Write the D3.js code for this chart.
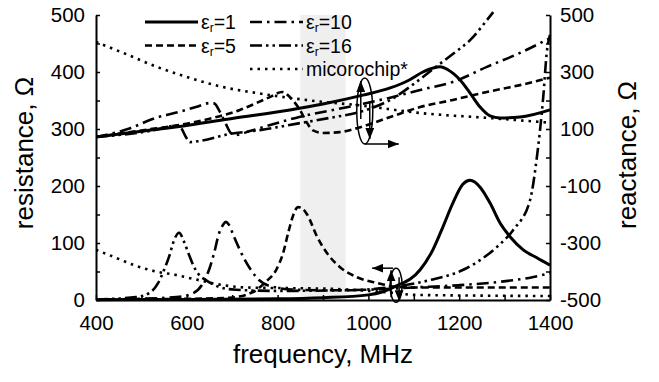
<!DOCTYPE html>
<html>
<head>
<meta charset="utf-8">
<script src="https://cdn.jsdelivr.net/npm/d3@7"></script>
<style>
  body { margin: 0; background: #fff; }
  svg text { font-family: "Liberation Sans", Arial, sans-serif; fill: #000; }
</style>
</head>
<body>
<div id="chart"></div>
<script>
// resistance (left axis), [frequency MHz, ohm]
const resEr1 = [[400,0.5],[600,1],[800,2],[900,4],[1000,9],[1030,14],[1057,23],[1114,53],[1142,88],[1164,128],[1186,170],[1208,203],[1224,210],[1246,198],[1268,170],[1290,135],[1312,111],[1341,88],[1371,74],[1400,61]];
const resEr5 = [[400,1],[600,2],[693,4],[746,14],[774,32],[797,53],[812,82],[825,123],[835,150],[845,163],[855,160],[865,150],[887,111],[909,82],[937,58],[975,40],[1019,30],[1063,23],[1100,22],[1400,22]];
const resEr10 = [[400,0.5],[577,5],[614,12],[636,30],[649,53],[660,82],[671,117],[680,132],[686,137],[692,133],[704,111],[724,76],[741,53],[759,35],[790,23],[840,18],[900,17],[1000,18],[1100,22],[1200,26],[1290,32],[1361,40],[1400,47]];
const resEr16 = [[400,1],[488,5],[517,12],[537,30],[550,53],[561,76],[572,105],[583,118],[594,102],[605,79],[616,58],[627,44],[642,35],[671,23],[708,18],[800,16],[950,17],[1063,24],[1136,35],[1209,53],[1246,70],[1283,93],[1319,123],[1356,175],[1371,250],[1385,355],[1393,435],[1400,465]];
const resChip = [[400,88],[444,74],[488,60],[532,50],[576,44],[620,36],[680,26],[730,22],[800,21],[900,20],[1000,16],[1060,12],[1100,9],[1200,8],[1400,7]];

// reactance (right axis), [frequency MHz, ohm]
const reacEr1 = [[400,72],[500,92],[607,114],[700,137],[827,167],[900,188],[988,219],[1048,244],[1090,272],[1120,300],[1145,315],[1158,318],[1175,308],[1202,272],[1224,226],[1246,177],[1268,146],[1290,139],[1334,142],[1400,167]];
const reacEr5 = [[400,72],[500,95],[607,121],[717,167],[783,212],[810,230],[827,212],[849,167],[865,121],[878,95],[900,86],[937,89],[975,103],[1048,142],[1114,177],[1186,202],[1261,230],[1334,254],[1400,280]];
const reacEr10 = [[400,72],[470,100],[532,139],[583,160],[620,177],[651,191],[660,190],[673,160],[686,118],[697,86],[708,79],[739,93],[840,139],[975,184],[1048,210],[1114,237],[1186,265],[1261,318],[1334,367],[1400,419]];
const reacEr16 = [[400,72],[519,93],[576,111],[587,104],[598,72],[607,54],[629,58],[693,82],[761,96],[840,118],[915,139],[981,160],[1048,202],[1114,275],[1151,321],[1186,363],[1224,412],[1268,496],[1275,510]];
const reacChip = [[400,405],[460,367],[534,318],[607,279],[680,247],[755,226],[828,209],[900,195],[975,184],[1114,156],[1262,139],[1400,122]];

const band = [850, 950];
const xTicks = [400,500,600,700,800,900,1000,1100,1200,1300,1400];
const xLabels = [400,600,800,1000,1200,1400];
const leftTicks = [0,50,100,150,200,250,300,350,400,450,500];
const leftLabels = [0,100,200,300,400,500];
const rightTicks = [-500,-400,-300,-200,-100,0,100,200,300,400,500];
const rightLabels = [-500,-300,-100,100,300,500];

const styles = {
    er1: { dash: null, w: 3 },
    er5: { dash: '7,4', w: 2.6 },
    er10: { dash: '12,5,2.5,5', w: 2.6 },
    er16: { dash: '12,4,2.5,4,2.5,4', w: 2.6 },
    chip: { dash: '2.5,5', w: 2.6 }
};

const width = 659, height = 382;
const svg = d3.select('#chart').append('svg')
    .attr('width', width)
    .attr('height', height);

const x = d3.scaleLinear().domain([400, 1400]).range([96, 550]);
const yL = d3.scaleLinear().domain([0, 500]).range([300, 15]);
const yR = d3.scaleLinear().domain([-500, 500]).range([300, 15]);

// shaded band
svg.append('rect')
    .attr('x', x(band[0]))
    .attr('y', yL(500))
    .attr('width', x(band[1]) - x(band[0]))
    .attr('height', yL(0) - yL(500))
    .attr('fill', '#efefef');

// axes
function styleAxis(g) {
    g.attr('font-size', 20.5).attr('font-family', null);
    g.select('.domain').attr('stroke-width', 2);
    g.selectAll('.tick line').attr('stroke-width', 1.5);
}
svg.append('g')
    .attr('transform', `translate(0,${yL(0)})`)
    .call(d3.axisBottom(x).tickValues(xTicks).tickSizeInner(-5).tickSizeOuter(0).tickPadding(15)
        .tickFormat(d => xLabels.includes(d) ? d : ''))
    .call(styleAxis);
svg.append('g')
    .attr('transform', `translate(${x(400)},0)`)
    .call(d3.axisLeft(yL).tickValues(leftTicks).tickSizeInner(-4).tickSizeOuter(0).tickPadding(11)
        .tickFormat(d => leftLabels.includes(d) ? d : ''))
    .call(styleAxis);
svg.append('g')
    .attr('transform', `translate(${x(1400)},0)`)
    .call(d3.axisRight(yR).tickValues(rightTicks).tickSizeInner(-4).tickSizeOuter(0).tickPadding(10)
        .tickFormat(d => rightLabels.includes(d) ? d : ''))
    .call(styleAxis);

// axis titles
svg.append('text')
    .attr('transform', 'translate(33,153) rotate(-90)')
    .attr('text-anchor', 'middle')
    .attr('font-size', 26)
    .text('resistance, Ω');
svg.append('text')
    .attr('transform', 'translate(636,155) rotate(-90)')
    .attr('text-anchor', 'middle')
    .attr('font-size', 26)
    .text('reactance, Ω');
svg.append('text')
    .attr('x', 323)
    .attr('y', 363)
    .attr('text-anchor', 'middle')
    .attr('font-size', 26)
    .text('frequency, MHz');

// clip
svg.append('clipPath').attr('id', 'plotclip')
    .append('rect').attr('x', 96).attr('y', 11).attr('width', 456).attr('height', 292);

const lineL = d3.line().x(d => x(d[0])).y(d => yL(d[1])).curve(d3.curveMonotoneX);
const lineR = d3.line().x(d => x(d[0])).y(d => yR(d[1])).curve(d3.curveMonotoneX);

const series = [
    { data: resEr1, line: lineL, s: 'er1' },
    { data: resEr5, line: lineL, s: 'er5' },
    { data: resEr10, line: lineL, s: 'er10' },
    { data: resEr16, line: lineL, s: 'er16' },
    { data: resChip, line: lineL, s: 'chip' },
    { data: reacChip, line: lineR, s: 'chip' },
    { data: reacEr5, line: lineR, s: 'er5' },
    { data: reacEr10, line: lineR, s: 'er10' },
    { data: reacEr16, line: lineR, s: 'er16' },
    { data: reacEr1, line: lineR, s: 'er1' }
];

const plot = svg.append('g').attr('clip-path', 'url(#plotclip)');
plot.selectAll('path.curve')
    .data(series)
    .enter()
    .append('path')
    .classed('curve', true)
    .attr('d', d => d.line(d.data))
    .attr('fill', 'none')
    .attr('stroke', '#000')
    .attr('stroke-width', d => styles[d.s].w)
    .attr('stroke-dasharray', d => styles[d.s].dash);

// legend
const legend = [
    { s: 'er1', sub: 'r', rest: '=1', col: 0, row: 0 },
    { s: 'er10', sub: 'r', rest: '=10', col: 1, row: 0 },
    { s: 'er5', sub: 'r', rest: '=5', col: 0, row: 1 },
    { s: 'er16', sub: 'r', rest: '=16', col: 1, row: 1 },
    { s: 'chip', sub: null, rest: 'micorochip*', col: 1, row: 2 }
];
const lg = svg.append('g').selectAll('g')
    .data(legend)
    .enter()
    .append('g')
    .attr('transform', d => `translate(${145 + d.col * 105},${22 + d.row * 23.5})`);
lg.append('line')
    .attr('x1', 0).attr('x2', 53).attr('y1', 0).attr('y2', 0)
    .attr('stroke', '#000')
    .attr('stroke-width', d => styles[d.s].w)
    .attr('stroke-dasharray', d => styles[d.s].dash);
const lt = lg.append('text')
    .attr('x', 56)
    .attr('y', 7)
    .attr('font-size', 19.5);
lt.each(function (d) {
    const t = d3.select(this);
    if (d.sub) {
        t.append('tspan').text('ε');
        t.append('tspan').attr('font-size', 12).attr('dy', 3).text(d.sub);
        t.append('tspan').attr('dy', -3).text(d.rest);
    } else {
        t.text(d.rest);
    }
});

// annotation ellipses with arrows
const defs = svg.append('defs');
defs.append('marker')
    .attr('id', 'head')
    .attr('viewBox', '0 0 10 8')
    .attr('refX', 10).attr('refY', 4)
    .attr('markerWidth', 11).attr('markerHeight', 9)
    .attr('markerUnits', 'userSpaceOnUse')
    .attr('orient', 'auto')
    .append('path').attr('d', 'M0,0L10,4L0,8Z').attr('fill', '#000');

const annos = [
    { f: 992, v: 163, y: yR, rx: 8, ry: 33,
      arrows: [[-4, 8, -4, -30], [5, -10, 5, 28], [0, 33, 34, 33]] },
    { f: 1061, v: 26, y: yL, rx: 6, ry: 17,
      arrows: [[-5, 12, -5, -15], [3, -8, 3, 16], [-3, -17, -24, -17]] }
];
annos.forEach(a => {
    const cx = x(a.f), cy = a.y(a.v);
    svg.append('ellipse')
        .attr('cx', cx).attr('cy', cy).attr('rx', a.rx).attr('ry', a.ry)
        .attr('fill', 'none').attr('stroke', '#000').attr('stroke-width', 1.5);
    a.arrows.forEach(ar => {
        svg.append('line')
            .attr('x1', cx + ar[0]).attr('y1', cy + ar[1])
            .attr('x2', cx + ar[2]).attr('y2', cy + ar[3])
            .attr('stroke', '#000').attr('stroke-width', 1.5)
            .attr('marker-end', 'url(#head)');
    });
});
</script>
</body>
</html>
